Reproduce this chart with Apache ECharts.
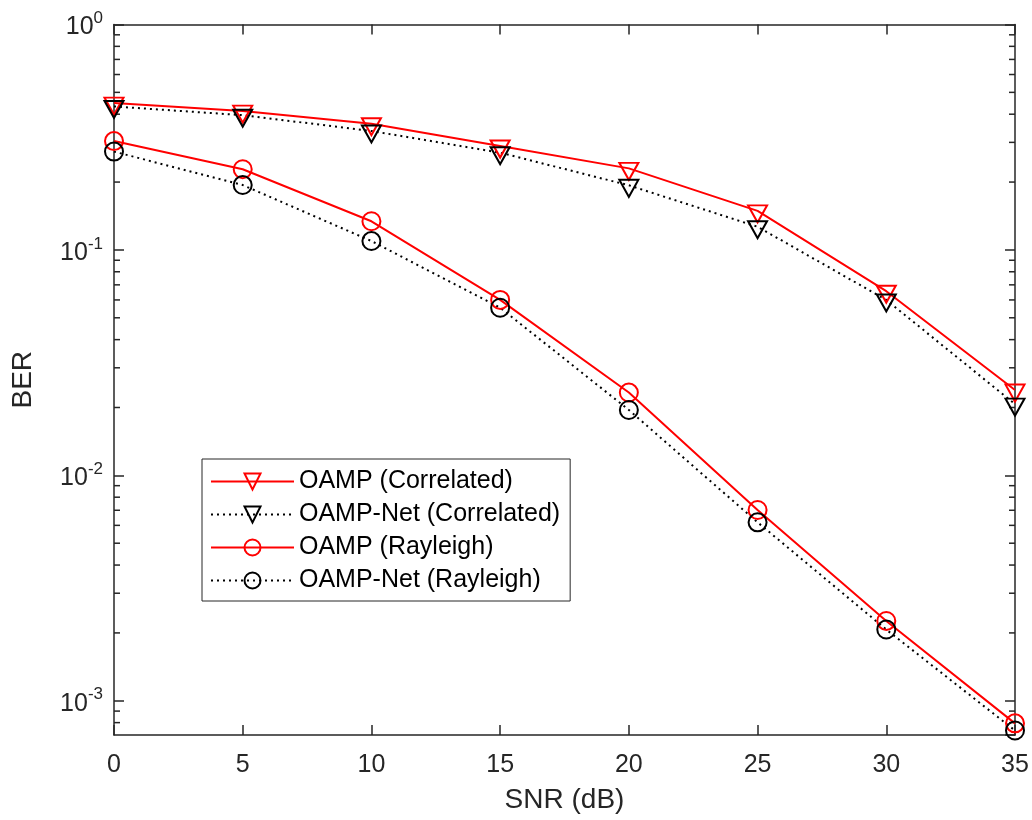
<!DOCTYPE html>
<html>
<head>
<meta charset="utf-8">
<script src="https://cdn.jsdelivr.net/npm/echarts@6/dist/echarts.min.js"></script>
<style>
html, body { margin: 0; padding: 0; background: #fff; }
#chart { width: 1032px; height: 820px; }
</style>
</head>
<body>
<div id="chart"></div>
<script>
// SNR (dB) on the x axis
var snr = [0, 5, 10, 15, 20, 25, 30, 35];
// BER values
var oampCorr = [0.448, 0.413, 0.363, 0.289, 0.230, 0.149, 0.0656, 0.0239];
var netCorr = [0.433, 0.396, 0.337, 0.270, 0.1935, 0.1267, 0.060, 0.0207];
var oampRay = [0.304, 0.228, 0.134, 0.060, 0.0233, 0.00702, 0.00226, 0.000794];
var netRay = [0.273, 0.194, 0.1095, 0.0554, 0.0195, 0.00619, 0.00207, 0.000738];
// axis range
var xMin = 0, xMax = 35, xStep = 5;
var yMin = 0.000705, yMax = 1;
// minor ticks of the log axis (matlab style 2..9 per decade)
var minorTicks = [0.0008, 0.0009,
    0.002, 0.003, 0.004, 0.005, 0.006, 0.007, 0.008, 0.009,
    0.02, 0.03, 0.04, 0.05, 0.06, 0.07, 0.08, 0.09,
    0.2, 0.3, 0.4, 0.5, 0.6, 0.7, 0.8, 0.9];

var FONT = '"Liberation Sans", Arial, sans-serif';
var AXIS = '#262626';
// downward triangle, hollow
var triDown = 'path://M0,0L20,0L10,17.32Z';

function pairs(ys) {
    return snr.map(function (x, i) { return [x, ys[i]]; });
}

function powLabel(v) {
    var e = Math.round(Math.log10(v));
    return '{b|10}{s|' + e + '}';
}

var xAxisBase = {
    type: 'value',
    min: xMin,
    max: xMax,
    interval: xStep,
    axisLine: { show: true, onZero: false, lineStyle: { color: AXIS, width: 1.5 } },
    axisTick: { show: true, inside: true, length: 10, lineStyle: { color: AXIS, width: 1.5 } },
    splitLine: { show: false }
};

var yAxisBase = {
    type: 'log',
    logBase: 10,
    min: yMin,
    max: yMax,
    axisLine: { show: true, onZero: false, lineStyle: { color: AXIS, width: 1.5 } },
    axisTick: { show: true, inside: true, length: 10, lineStyle: { color: AXIS, width: 1.5 } },
    splitLine: { show: false }
};

function lineSeries(name, ys, symbol, size, offset, color, dotted) {
    return {
        name: name,
        type: 'line',
        data: pairs(ys),
        symbol: symbol,
        symbolSize: size,
        symbolOffset: offset,
        showAllSymbol: true,
        lineStyle: { color: color, width: 2, type: dotted ? [2, 4] : 'solid' },
        itemStyle: { color: 'rgba(0,0,0,0)', borderColor: color, borderWidth: 2 },
        emphasis: { disabled: true }
    };
}

var chart = echarts.init(document.getElementById('chart'));
chart.setOption({
    animation: false,
    backgroundColor: '#fff',
    textStyle: { fontFamily: FONT },
    grid: { left: 114, right: 17, top: 24.5, bottom: 85, outerBoundsMode: 'none' },
    xAxis: [
        Object.assign({}, xAxisBase, {
            position: 'bottom',
            name: 'SNR (dB)',
            nameLocation: 'middle',
            nameGap: 51,
            nameTextStyle: { fontSize: 28, color: AXIS, fontFamily: FONT },
            axisLabel: { fontSize: 25, color: AXIS, margin: 18, fontFamily: FONT }
        }),
        Object.assign({}, xAxisBase, {
            position: 'top',
            axisLabel: { show: false }
        })
    ],
    yAxis: [
        Object.assign({}, yAxisBase, {
            position: 'left',
            name: 'BER',
            nameLocation: 'middle',
            nameGap: 77,
            nameTextStyle: { fontSize: 28, color: AXIS, fontFamily: FONT },
            axisLabel: {
                margin: 11,
                color: AXIS,
                showMinLabel: false,
                formatter: powLabel,
                rich: {
                    b: { fontSize: 25, color: AXIS, fontFamily: FONT, padding: [6, 0, 0, 0] },
                    s: { fontSize: 17, color: AXIS, fontFamily: FONT, padding: [0, 0, 12, 0] }
                }
            }
        }),
        Object.assign({}, yAxisBase, {
            position: 'right',
            axisLabel: { show: false }
        })
    ],
    legend: {
        orient: 'vertical',
        left: 202,
        top: 459,
        padding: [10, 10, 8, 8],
        itemWidth: 83,
        itemHeight: 20,
        itemGap: 8,
        borderColor: '#262626',
        borderWidth: 1,
        backgroundColor: '#fff',
        selectedMode: false,
        textStyle: { fontSize: 25, color: '#000', fontFamily: FONT },
        data: ['OAMP (Correlated)', 'OAMP-Net (Correlated)', 'OAMP (Rayleigh)', 'OAMP-Net (Rayleigh)']
    },
    series: [
        lineSeries('OAMP (Correlated)', oampCorr, triDown, [19, 17], [0, 3], '#ff0000', false),
        lineSeries('OAMP-Net (Correlated)', netCorr, triDown, [19, 17], [0, 3], '#000000', true),
        lineSeries('OAMP (Rayleigh)', oampRay, 'circle', 18, [0, 0], '#ff0000', false),
        lineSeries('OAMP-Net (Rayleigh)', netRay, 'circle', 18, [0, 0], '#000000', true),
        {
            // minor ticks on left and right frame
            type: 'custom',
            silent: true,
            clip: false,
            z: 1,
            data: minorTicks.map(function (v) { return [xMin, v]; }),
            encode: { x: 0, y: 1 },
            renderItem: function (params, api) {
                var v = api.value(1);
                var a = api.coord([xMin, v]);
                var b = api.coord([xMax, v]);
                var st = { stroke: AXIS, lineWidth: 1.5 };
                return {
                    type: 'group',
                    children: [
                        { type: 'line', shape: { x1: a[0], y1: a[1], x2: a[0] + 6, y2: a[1] }, style: st },
                        { type: 'line', shape: { x1: b[0] - 6, y1: b[1], x2: b[0], y2: b[1] }, style: st }
                    ]
                };
            }
        }
    ]
});
</script>
</body>
</html>
